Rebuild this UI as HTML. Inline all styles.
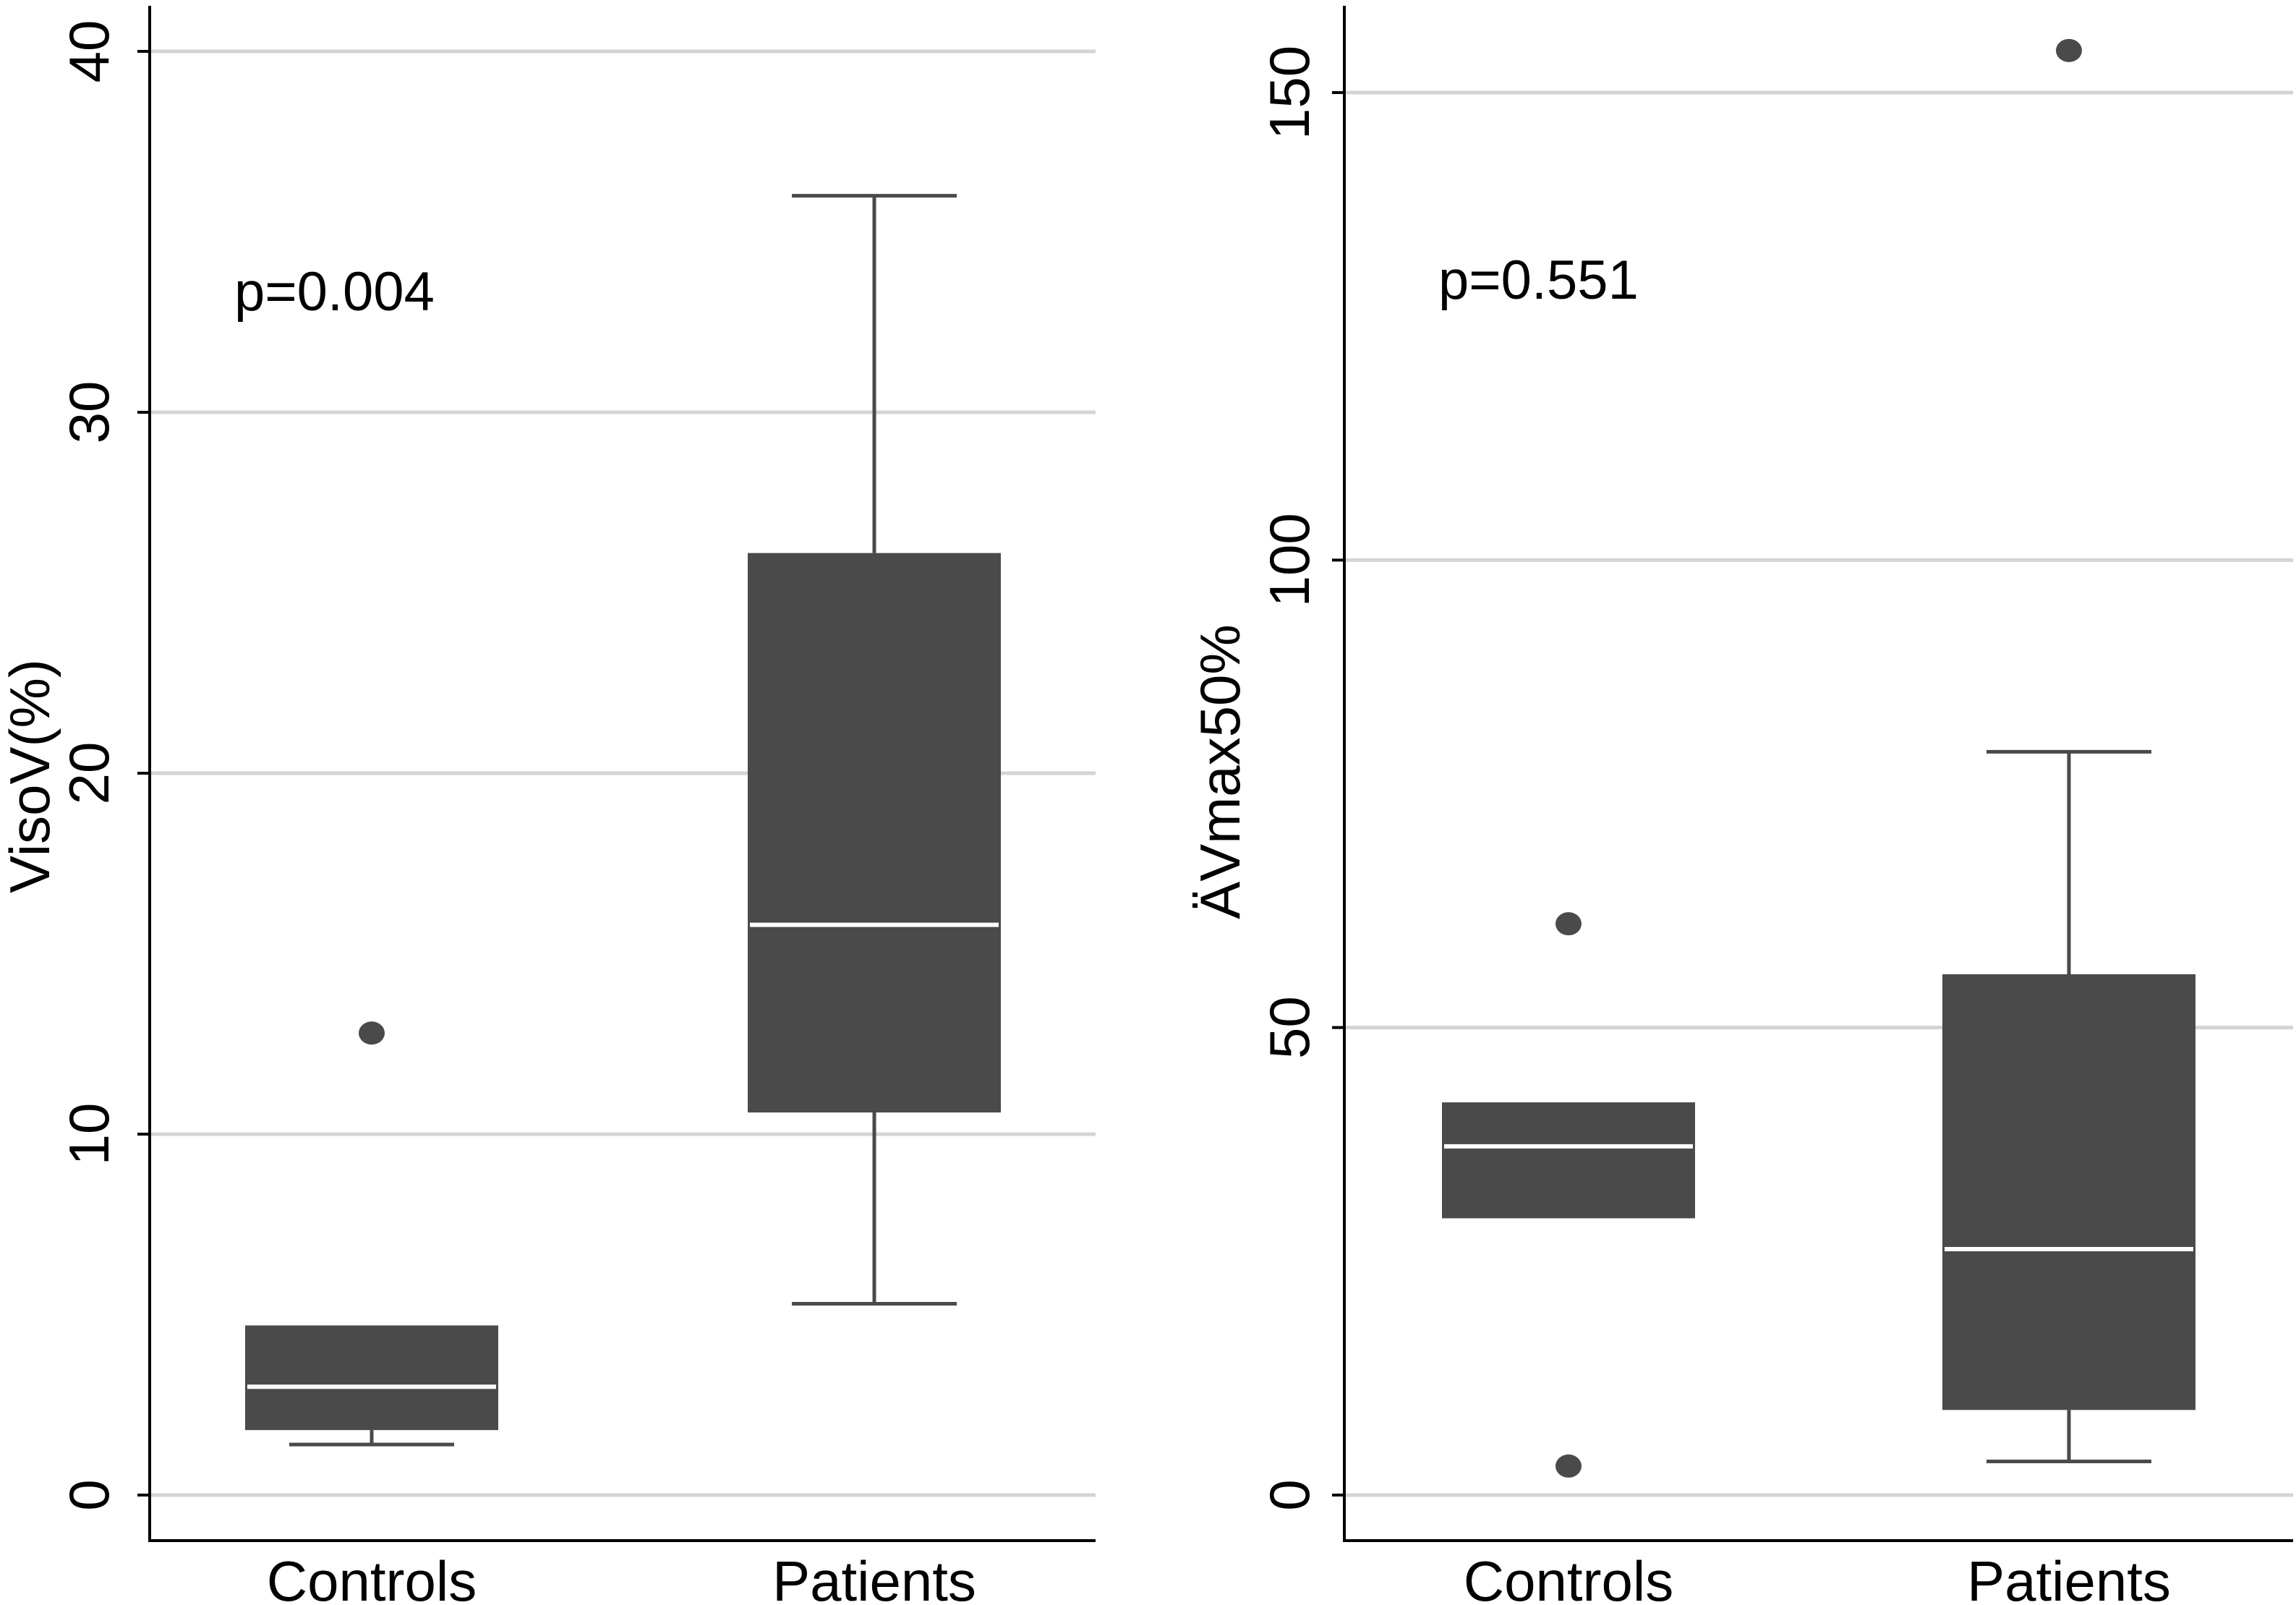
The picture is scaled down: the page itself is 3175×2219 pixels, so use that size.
<!DOCTYPE html>
<html><head><meta charset="utf-8"><style>
html,body{margin:0;padding:0;background:#fff;}
svg{display:block;}
text{font-family:"Liberation Sans",sans-serif;fill:#000;}
</style></head><body>
<svg id="chart" width="3175" height="2219" viewBox="0 0 3175 2219" xmlns="http://www.w3.org/2000/svg"></svg>
<script>
const categories = ["Controls", "Patients"];
// left panel: VisoV(%)
const leftTicks = [0, 10, 20, 30, 40];
const leftLow = [1.4, 5.3];
const leftQ1 = [1.8, 10.6];
const leftMedian = [3.0, 15.8];
const leftQ3 = [4.7, 26.1];
const leftHigh = [4.7, 36.0];
const leftOutliers = [[12.8], []];
// right panel: ÄVmax50%
const rightTicks = [0, 50, 100, 150];
const rightLow = [29.6, 3.6];
const rightQ1 = [29.6, 9.1];
const rightMedian = [37.3, 26.3];
const rightQ3 = [42.0, 55.7];
const rightHigh = [42.0, 79.5];
const rightOutliers = [[61.1, 3.1], [154.5]];

const NS = "http://www.w3.org/2000/svg";
const svg = document.getElementById("chart");
function mk(tag, attrs, parent) {
  const e = document.createElementNS(NS, tag);
  for (const k in attrs) e.setAttribute(k, attrs[k]);
  (parent || svg).appendChild(e);
  return e;
}

function panel(cfg) {
  const g = mk("g", {});
  
  
  const y = v => cfg.y0 - (v - 0) * (cfg.y0 - cfg.yTop) / (cfg.tickMax);
  const x = i => cfg.cx[i];
  cfg.ticks.forEach(t => {
    const gl = mk("line", {x1: cfg.axisX, x2: cfg.gridEnd, y1: y(t), y2: y(t), stroke: "#d4d4d4", "stroke-width": 5}, g);
    
    
    const tk = mk("line", {x1: cfg.axisX - 17, x2: cfg.axisX, y1: y(t), y2: y(t), stroke: "#000", "stroke-width": 4}, g);
    
    
    const lb = mk("text", {x: 0, y: 0, "font-size": 78, "text-anchor": "middle", transform: `translate(${cfg.tickLabelX},${y(t)}) rotate(-90)`}, g);
    lb.textContent = String(t);
    
    
  });
  const ya = mk("line", {x1: cfg.axisX, x2: cfg.axisX, y1: 8, y2: 2132, stroke: "#000", "stroke-width": 4}, g);
  
  
  const xa = mk("line", {x1: cfg.axisX - 2, x2: cfg.gridEnd, y1: 2130, y2: 2130, stroke: "#000", "stroke-width": 4}, g);
  
  
  const yt = mk("text", {x: 0, y: 0, "font-size": 78, "text-anchor": "middle", transform: `translate(${cfg.titleX},${cfg.titleY}) rotate(-90)`}, g);
  yt.textContent = cfg.title;
  
  
  const pt = mk("text", {x: cfg.pX, y: cfg.pY, "font-size": 76}, g);
  pt.textContent = cfg.pText;
  
  
  const hw = 175, cap = 114, col = "#4a4a4a";
  categories.forEach((c, i) => {
    const cx = x(i);
    const lab = mk("text", {x: cx, y: 2213, "font-size": 78, "text-anchor": "middle"}, g);
    lab.textContent = c;
    
    
    if (cfg.high[i] > cfg.q3[i]) {
      const w = mk("line", {x1: cx, x2: cx, y1: y(cfg.q3[i]), y2: y(cfg.high[i]), stroke: col, "stroke-width": 5}, g);
      
      
      const cp = mk("line", {x1: cx - cap, x2: cx + cap, y1: y(cfg.high[i]), y2: y(cfg.high[i]), stroke: col, "stroke-width": 5}, g);
      
      
    }
    if (cfg.low[i] < cfg.q1[i]) {
      const w = mk("line", {x1: cx, x2: cx, y1: y(cfg.q1[i]), y2: y(cfg.low[i]), stroke: col, "stroke-width": 5}, g);
      
      
      const cp = mk("line", {x1: cx - cap, x2: cx + cap, y1: y(cfg.low[i]), y2: y(cfg.low[i]), stroke: col, "stroke-width": 5}, g);
      
      
    }
    const b = mk("rect", {x: cx - hw, y: y(cfg.q3[i]), width: 2 * hw, height: y(cfg.q1[i]) - y(cfg.q3[i]), fill: col}, g);
    
    
    const m = mk("line", {x1: cx - hw + 3, x2: cx + hw - 3, y1: y(cfg.median[i]), y2: y(cfg.median[i]), stroke: "#fff", "stroke-width": 6}, g);
    
    
    cfg.out[i].forEach(v => {
      const o = mk("ellipse", {cx: cx, cy: y(v), rx: 18, ry: 16, fill: col}, g);
      
      
    });
  });
}

panel({name: "left-panel-visov", axisX: 207, gridEnd: 1515, y0: 2067, yTop: 71, tickMax: 40,
  ticks: leftTicks, tickLabelX: 150, cx: [514, 1209], title: "VisoV(%)", titleX: 68, titleY: 1073,
  pText: "p=0.004", pX: 324, pY: 429,
  low: leftLow, q1: leftQ1, median: leftMedian, q3: leftQ3, high: leftHigh, out: leftOutliers});
panel({name: "right-panel-vmax50", axisX: 1859, gridEnd: 3171, y0: 2067, yTop: 128, tickMax: 150,
  ticks: rightTicks, tickLabelX: 1810, cx: [2169, 2861], title: "ÄVmax50%", titleX: 1714, titleY: 1067,
  pText: "p=0.551", pX: 1989, pY: 413,
  low: rightLow, q1: rightQ1, median: rightMedian, q3: rightQ3, high: rightHigh, out: rightOutliers});
</script>
</body></html>
